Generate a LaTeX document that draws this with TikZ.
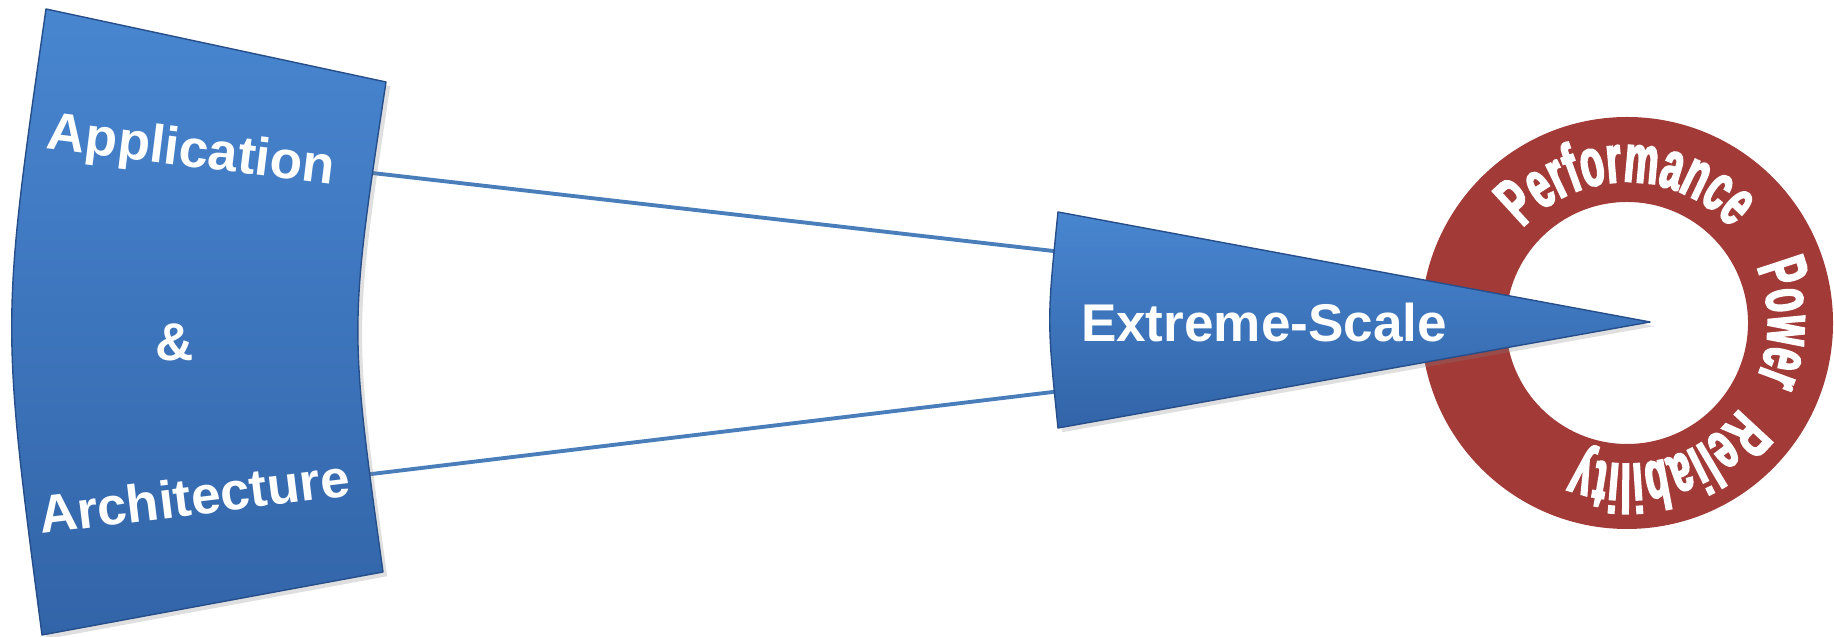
\documentclass[tikz,border=0pt]{standalone}
\usepackage{fontspec}
\setmainfont{Liberation Sans}
\newfontface\ringfont[FakeStretch=0.56, FakeBold=2.5]{Liberation Sans Bold}
\usepackage{xcolor}
\definecolor{boxbluelight}{RGB}{72,134,208}
\definecolor{boxbluedark}{RGB}{50,100,168}
\definecolor{edgeblue}{RGB}{38,78,138}
\definecolor{linkblue}{RGB}{74,126,187}
\definecolor{ringred}{RGB}{162,59,55}
\newcommand{\ringfmt}{\ringfont\fontsize{19.5}{22}\selectfont}
\usepackage{tikz}
\usetikzlibrary{positioning,calc,decorations.text,shadows}

\begin{document}
\begin{tikzpicture}[
        x=0.01cm, y=0.01cm,
        blueshape/.style={top color=boxbluelight, bottom color=boxbluedark, draw=edgeblue, line width=0.4pt, line join=round,
            drop shadow={opacity=0.25, shadow xshift=1.2pt, shadow yshift=-1.2pt}},
        bluetext/.style={text=white, font=\bfseries\fontsize{15.1}{18}\selectfont, inner sep=0pt},
        link/.style={draw=linkblue, line width=1.1pt},
        ringtext/.style={decorate, decoration={text along path, text color=white, text align=center, text={|\ringfmt|#1}}},
    ]
    \useasboundingbox (0,0) rectangle (1834,637);

    % corners and centres
    \coordinate (blk tl) at (46,628);
    \coordinate (blk tr) at (386,555);
    \coordinate (blk br) at (383,65);
    \coordinate (blk bl) at (42,2);
    \coordinate (wdg t) at (1058,425);
    \coordinate (wdg b) at (1058,209);
    \coordinate (wdg tip) at (1650,315);
    \coordinate (ring c) at (1627,314);

    % === Links (ends hidden under the shapes) ===
    \coordinate (blk out1) at (360,465.4);
    \coordinate (blk out2) at (360,161.6);
    \coordinate (wdg in1) at (1062,385);
    \coordinate (wdg in2) at (1062,246.1);
    \draw[link] (blk out1) -- (wdg in1);
    \draw[link] (blk out2) -- (wdg in2);

    % === Left block ===
    \path[blueshape] (blk tl) -- (blk tr) .. controls (349,310) .. (blk br) -- (blk bl) .. controls (1,315) .. cycle;
    \node[bluetext, rotate=-7] (app) at (191,484) {Application};
    \node[bluetext] (amp) at (175,295) {\&};
    \node[bluetext, rotate=7] (arch) at (194,141) {Architecture};

    % === Ring ===
    \fill[ringred, even odd rule] (ring c) circle[radius=206] circle[radius=121];
    \path[ringtext=Performance] ($(ring c)+(160:141)$) arc[start angle=160, end angle=20, radius=141];
    \path[ringtext=Power] ($(ring c)+(40:141)$) arc[start angle=40, end angle=-40, radius=141];
    \path[ringtext=Reliability] ($(ring c)+(-20:141)$) arc[start angle=-20, end angle=-128, radius=141];

    % === Wedge ===
    \path[blueshape] (wdg t) -- (wdg tip) -- (wdg b) .. controls (1047,317) .. cycle;
    \node[bluetext] (xscale) at (1264,314) {Extreme-Scale};

\end{tikzpicture}
\end{document}
